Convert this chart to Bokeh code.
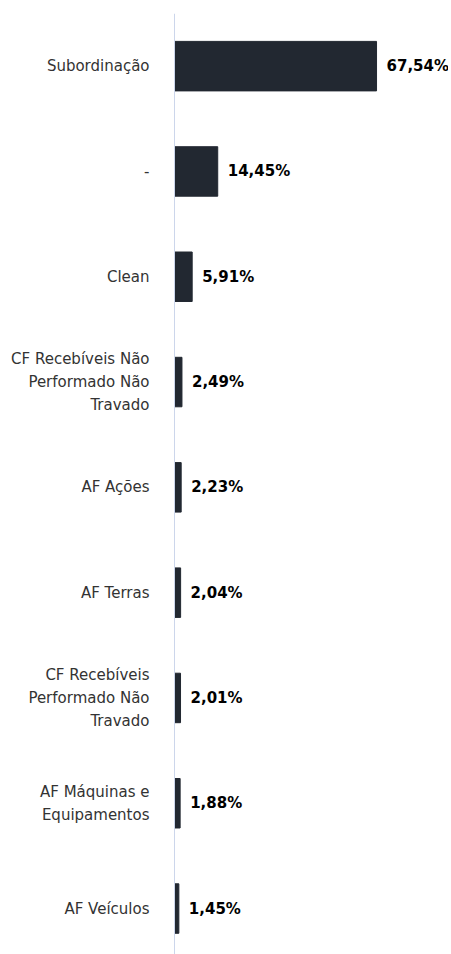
from bokeh.plotting import figure
from bokeh.models import ColumnDataSource, Range1d, Span
from bokeh.core.properties import value
from bokeh.embed import file_html
from bokeh.resources import INLINE

categories = [
    "Subordinação",
    "-",
    "Clean",
    "CF Recebíveis Não\nPerformado Não\nTravado",
    "AF Ações",
    "AF Terras",
    "CF Recebíveis\nPerformado Não\nTravado",
    "AF Máquinas e\nEquipamentos",
    "AF Veículos",
]
values = [67.54, 14.45, 5.91, 2.49, 2.23, 2.04, 2.01, 1.88, 1.45]
value_labels = ["67,54%", "14,45%", "5,91%", "2,49%", "2,23%", "2,04%", "2,01%", "1,88%", "1,45%"]

n = len(categories)
pos = list(range(n))
src = ColumnDataSource(dict(pos=pos, cat=categories, val=values, lab=value_labels,
                            zero=[0] * n))

frame_h = 941
slot = 105.3
visible = frame_h / slot
p = figure(width=448, height=954, output_backend="svg", toolbar_location=None,
           y_range=Range1d(start=visible - 0.5, end=-0.5), x_range=(-55.5, 91.6),
           min_border_left=8, min_border_right=0, min_border_top=13, min_border_bottom=0)
p.axis.visible = False
p.grid.visible = False
p.outline_line_color = None

p.add_layout(Span(location=0, dimension="height", line_color="#ccd6eb", line_width=1))

p.hbar(y="pos", left=0, right="val", height=0.47, source=src,
       fill_color="#222831", line_color="#222831")

p.text(x="zero", y="pos", text="cat", source=src, x_offset=-25,
       text_align="right", text_baseline="middle",
       text_font=value("DejaVu Sans"), text_font_size="15px", text_color="#333333",
       text_line_height=1.3)

p.text(x="val", y="pos", text="lab", source=src, x_offset=10,
       text_align="left", text_baseline="middle",
       text_font=value("DejaVu Sans"), text_font_size="15px", text_font_style="bold",
       text_color="#000000")

open("out.html", "w").write(file_html(p, INLINE))
